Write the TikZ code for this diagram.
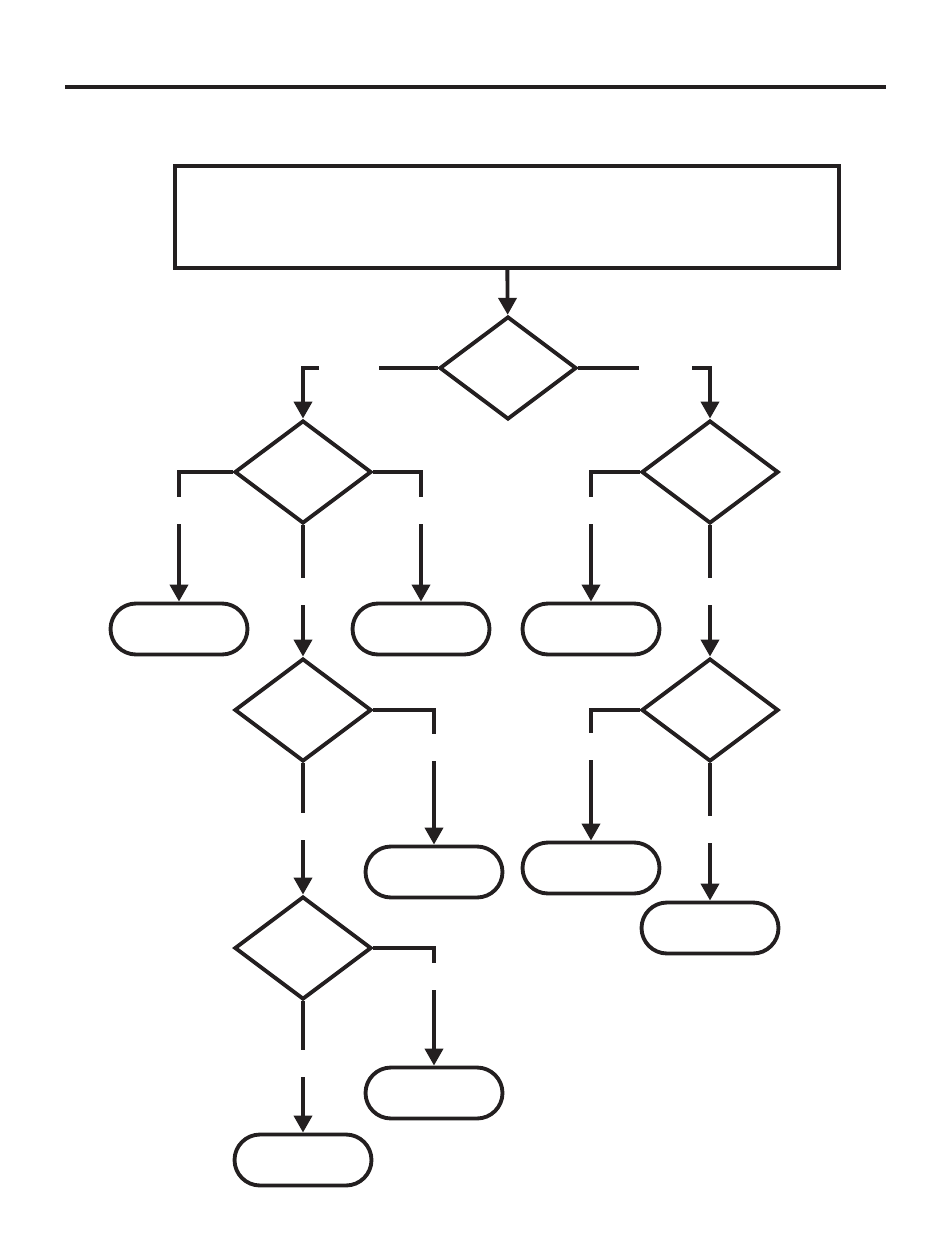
\documentclass[tikz,border=0pt]{standalone}
\usepackage{tikz}
\usetikzlibrary{arrows.meta,shapes.geometric}
\definecolor{ink}{HTML}{231F20}

\begin{document}
\begin{tikzpicture}[
  x=0.02cm,y=-0.02cm,
  line width=2.2pt,draw=ink,
  every node/.style={inner sep=0pt},
  topbox/.style={rectangle,draw=ink,minimum width=13.28cm,minimum height=2.04cm},
  dec/.style={diamond,draw=ink,minimum width=2.74cm,minimum height=2.06cm},
  term/.style={rectangle,draw=ink,rounded corners=0.51cm,minimum width=2.74cm,minimum height=1.02cm},
  gap/.style={fill=white,minimum width=0.3cm,minimum height=0.54cm},
  hgap/.style={fill=white,minimum width=1.2cm,minimum height=0.3cm},
  arr/.style={draw=ink,-{Triangle[length=0.34cm,width=0.36cm]}},
]
\useasboundingbox (0,0) rectangle (950,1256);

% rule
\draw[line width=2.8pt] (65,87) -- (886,87);

% start
\node[topbox] (start) at (507,217) {};

% decisions
\node[dec] (d0) at (508,368) {};
\node[dec] (d1) at (303,472) {};
\node[dec] (d2) at (710,472) {};
\node[dec] (d3) at (303,710) {};
\node[dec] (d4) at (710,710) {};
\node[dec] (d5) at (303,948) {};

% terminals
\node[term] (t1) at (179,629) {};
\node[term] (t2) at (421,629) {};
\node[term] (t3) at (591,629) {};
\node[term] (t4) at (434,872) {};
\node[term] (t5) at (434,1093) {};
\node[term] (t6) at (303,1160) {};
\node[term] (t7) at (591,868) {};
\node[term] (t8) at (710,928) {};

% Arrows
\draw[arr] (start) -- (d0);
\draw[arr] (d0.west) -| node[hgap,pos=0.33] {} (d1.north);
\draw[arr] (d0.east) -| node[hgap,pos=0.33,minimum width=1.06cm] {} (d2.north);

\draw[arr] (d1.west) -| node[gap,pos=0.65] {} (t1.north);
\draw[arr] (d1.east) -| node[gap,pos=0.65] {} (t2.north);
\draw[arr] (d1.south) -- node[gap,pos=0.5] {} (d3.north);

\draw[arr] (d2.west) -| node[gap,pos=0.65] {} (t3.north);
\draw[arr] (d2.south) -- node[gap,pos=0.5] {} (d4.north);

\draw[arr] (d3.east) -| node[gap,pos=0.64] {} (t4.north);
\draw[arr] (d3.south) -- node[gap,pos=0.48] {} (d5.north);

\draw[arr] (d5.east) -| node[gap,pos=0.62] {} (t5.north);
\draw[arr] (d5.south) -- node[gap,pos=0.47] {} (t6.north);

\draw[arr] (d4.west) -| node[gap,pos=0.64] {} (t7.north);
\draw[arr] (d4.south) -- node[gap,pos=0.48] {} (t8.north);
\end{tikzpicture}
\end{document}
